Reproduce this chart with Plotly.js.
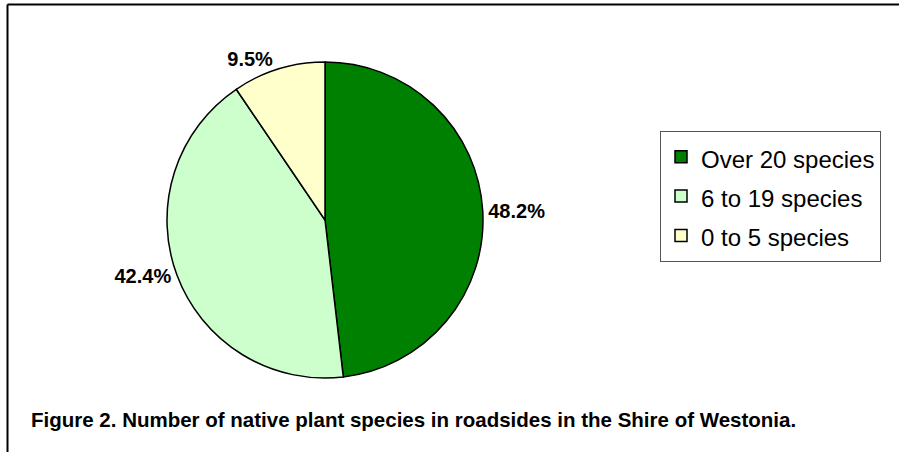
<!DOCTYPE html>
<html>
<head>
<meta charset="utf-8">
<script src="https://cdn.plot.ly/plotly-3.0.1.min.js"></script>
<style>html,body{margin:0;padding:0;background:#fff;}#chart{width:899px;height:452px;}</style>
</head>
<body>
<div id="chart"></div>
<script>
const categories = ["Over 20 species", "6 to 19 species", "0 to 5 species"];
const shares = [48.2, 42.4, 9.5];
const sliceColors = ["#008000", "#CCFFCC", "#FFFFCC"];
const caption = "Figure 2. Number of native plant species in roadsides in the Shire of Westonia.";

const W = 899, H = 452;
const cx = 325, cy = 220, r = 158;

const trace = {
  type: "pie",
  labels: categories.map(c => '<span style="font-size:24px">' + c + '</span>'),
  values: shares,
  sort: false,
  direction: "clockwise",
  rotation: 0,
  marker: {colors: sliceColors, line: {color: "#000", width: 1.5}},
  textposition: "outside",
  texttemplate: "%{value:.1f}%",
  textfont: {family: "Arial, Liberation Sans, sans-serif", size: 20, color: "#000", weight: "bold"},
  outsidetextfont: {family: "Arial, Liberation Sans, sans-serif", size: 20, color: "#000", weight: "bold"},
  hoverinfo: "label+percent",
  domain: {
    x: [(cx - r) / W, (cx + r) / W],
    y: [(H - cy - r) / H, (H - cy + r) / H]
  },
  automargin: false
};

const layout = {
  width: W, height: H,
  margin: {l: 0, r: 0, t: 0, b: 0},
  paper_bgcolor: "#fff",
  showlegend: true,
  legend: {
    x: 660 / W, y: 1 - 131 / H, xanchor: "left", yanchor: "top",
    font: {family: "Arial, Liberation Sans, sans-serif", size: 28, color: "#000"},
    bgcolor: "#fff", bordercolor: "#555", borderwidth: 1
  },
  shapes: [
    {type: "line", xref: "paper", yref: "paper", x0: 7.5 / W, x1: 1, y0: 1 - 4.5 / H, y1: 1 - 4.5 / H, line: {color: "#000", width: 2}},
    {type: "line", xref: "paper", yref: "paper", x0: 7.5 / W, x1: 7.5 / W, y0: 0, y1: 1 - 4.5 / H, line: {color: "#000", width: 2}}
  ],
  annotations: [
    {text: caption, xref: "paper", yref: "paper", x: 29 / W, y: 1 - 419 / H, xanchor: "left", yanchor: "middle", showarrow: false,
     font: {family: "Arial, Liberation Sans, sans-serif", size: 20.5, color: "#000", weight: "bold"}}
  ]
};

Plotly.newPlot("chart", [trace], layout, {displayModeBar: false, staticPlot: true});
</script>
</body>
</html>
